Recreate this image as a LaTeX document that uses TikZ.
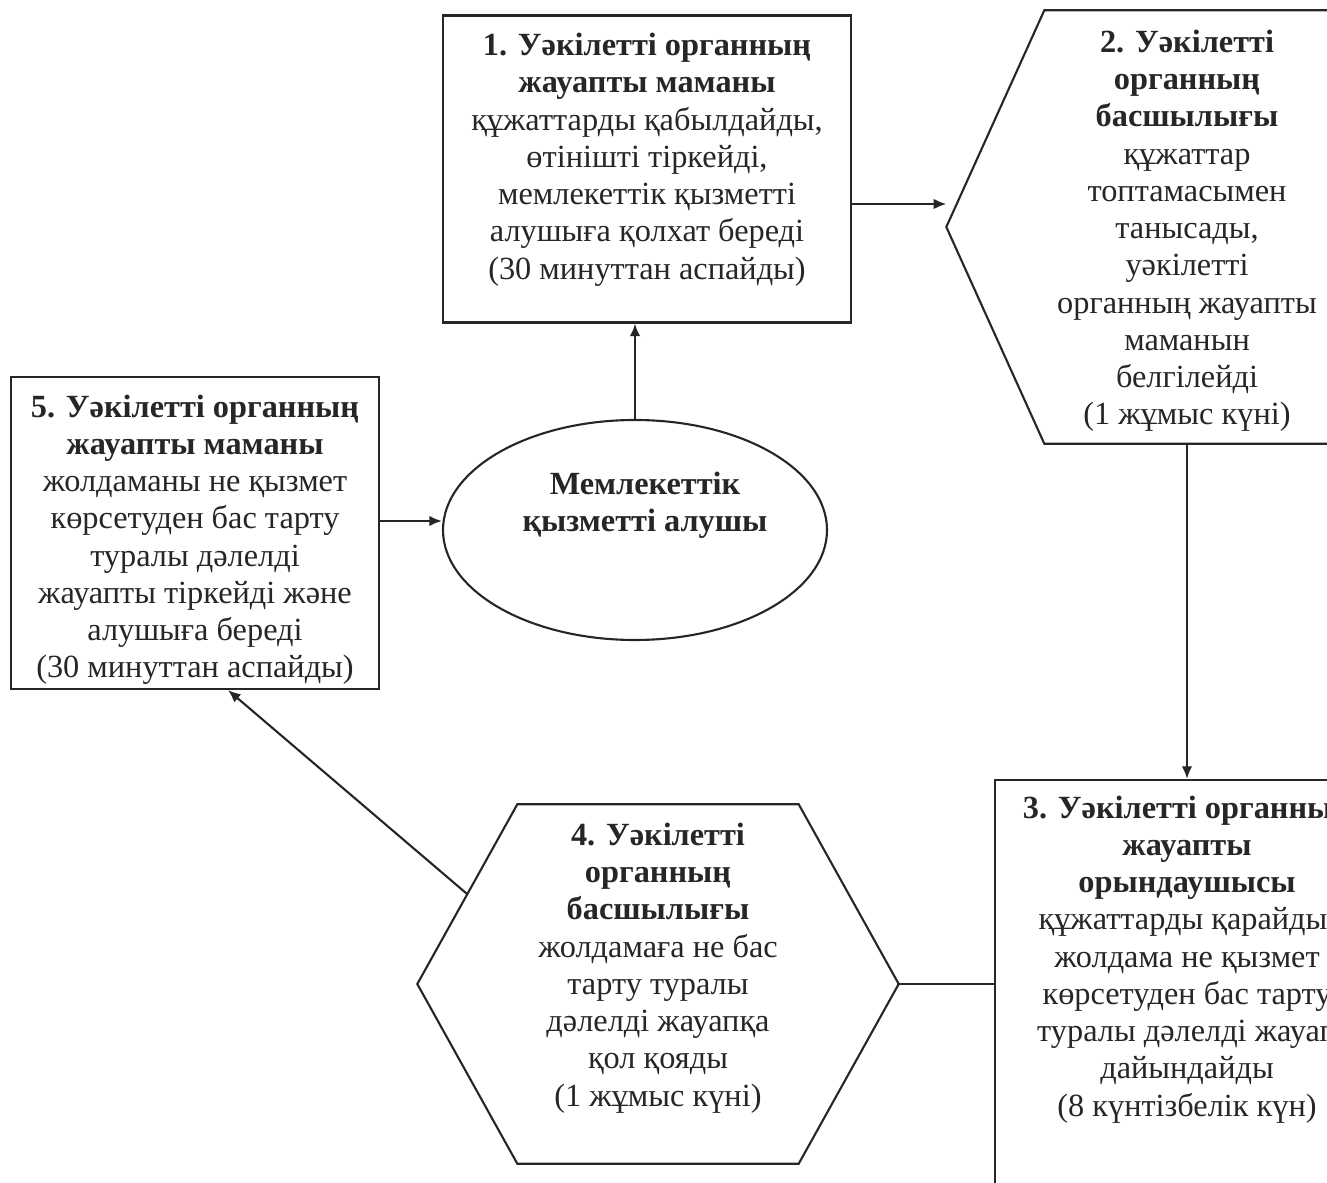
\documentclass[tikz,border=0pt]{standalone}
\usepackage{fontspec}
\setmainfont{Liberation Serif}
\usetikzlibrary{positioning,calc,shapes.geometric,arrows.meta}
\tikzset{>={Latex[length=3.6pt,width=3pt]}}
\colorlet{ink}{black!85}
\tikzset{
  frame/.style = {draw=ink, line width=0.6pt, inner sep=0pt},
  hexnode/.style = {inner sep=0pt},
  boxtext/.style = {align=center, inner sep=0pt, text=ink,
    font=\fontsize{9.2}{10.6}\selectfont},
  link/.style = {draw=ink, line width=0.6pt}
}
\newcommand{\hexdraw}[2]{%
  \draw[link] (#1.west) -- ([xshift=#2]#1.north west) -- ([xshift=-#2]#1.north east)
    -- (#1.east) -- ([xshift=-#2]#1.south east) -- ([xshift=#2]#1.south west) -- cycle;}

\begin{document}
\begin{tikzpicture}[x=0.1mm,y=0.1mm]
  \useasboundingbox (0,0) rectangle (1327,1182);
  % shapes
  \node[frame, minimum width=40.8mm, minimum height=30.7mm] (b1) at (647,1013) {};
  \node[hexnode, minimum width=48mm, minimum height=43.2mm] (h2) at (1187,955) {};
  \hexdraw{h2}{9.8mm}
  \node[frame, minimum width=38.4mm, minimum height=42mm] (b3) at (1187,192) {};
  \node[hexnode, minimum width=48mm, minimum height=35.8mm] (h4) at (658,198) {};
  \hexdraw{h4}{10mm}
  \node[frame, minimum width=36.8mm, minimum height=31.2mm] (b5) at (195,649) {};
  \node[frame, ellipse, minimum width=38.4mm, minimum height=22mm] (ell) at (635,652) {};
  % texts
  \node[boxtext, below=1.8mm of b1.north] (t1) {\textbf{1. Уәкілетті органның}\\
    \textbf{жауапты маманы}\\ құжаттарды қабылдайды,\\ өтінішті тіркейді,\\
    мемлекеттік қызметті\\ алушыға қолхат береді\\ (30 минуттан аспайды)};
  \node[boxtext, below=1.9mm of h2.north] (t2) {\textbf{2. Уәкілетті}\\
    \textbf{органның}\\ \textbf{басшылығы}\\ құжаттар\\ топтамасымен\\ танысады,\\
    уәкілетті\\ органның жауапты\\ маманын\\ белгілейді\\ (1 жұмыс күні)};
  \node[boxtext, below=1.6mm of b3.north] (t3) {\textbf{3. Уәкілетті органның}\\
    \textbf{жауапты}\\ \textbf{орындаушысы}\\ құжаттарды қарайды,\\ жолдама не қызмет\\
    көрсетуден бас тарту\\ туралы дәлелді жауап\\ дайындайды\\ (8 күнтізбелік күн)};
  \node[boxtext, below=1.8mm of h4.north] (t4) {\textbf{4. Уәкілетті}\\
    \textbf{органның}\\ \textbf{басшылығы}\\ жолдамаға не бас\\ тарту туралы\\
    дәлелді жауапқа\\ қол қояды\\ (1 жұмыс күні)};
  \node[boxtext, below=1.8mm of b5.north] (t5) {\textbf{5. Уәкілетті органның}\\
    \textbf{жауапты маманы}\\ жолдаманы не қызмет\\ көрсетуден бас тарту\\
    туралы дәлелді\\ жауапты тіркейді және\\ алушыға береді\\ (30 минуттан аспайды)};
  \node[boxtext, below=5.2mm of ell.north, xshift=1mm] (t0) {\textbf{Мемлекеттік}\\
    \textbf{қызметті алушы}};
  % connectors
  \draw[link,->] (ell.north) -- (ell.north |- b1.south);
  \draw[link,->] ([yshift=-3.5mm]b1.east) -- ([yshift=-3.5mm]b1.east -| h2.west);
  \draw[link,->] (h2.south) -- (b3.north);
  \draw[link] (h4.east) -- (h4.east -| b3.west);
  \draw[link,->] ($(h4.west)!0.5!([xshift=10mm]h4.north west)$) -- ([xshift=3.3mm]b5.south);
  \draw[link,->] ([yshift=1.2mm]b5.east) -- ([yshift=1.2mm]b5.east -| ell.west);
\end{tikzpicture}
\end{document}
